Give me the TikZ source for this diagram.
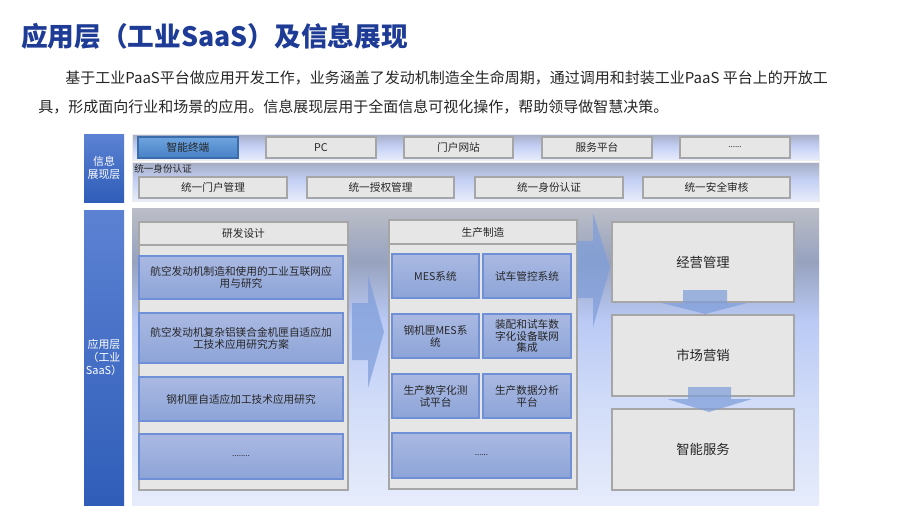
\documentclass[tikz,border=0pt]{standalone}
\usepackage{fontspec}
\setmainfont{Noto Sans CJK SC}
\usetikzlibrary{calc}

\definecolor{titleblue}{HTML}{1E3C96}
\definecolor{lblTop}{HTML}{5C82D3}
\definecolor{lblBot}{HTML}{2F5DB8}
\definecolor{greyfill}{HTML}{E6E6E6}
\definecolor{greyline}{HTML}{A6A6A6}
\definecolor{itemTop}{HTML}{AAB9E2}
\definecolor{itemBot}{HTML}{8DA4D8}
\definecolor{itemLine}{HTML}{6F8FD6}
\definecolor{arrowc}{HTML}{7F9EDA}
\definecolor{selTop}{HTML}{6FA3DE}
\definecolor{selBot}{HTML}{4682C6}
\definecolor{selLine}{HTML}{3B6BA8}
\definecolor{txt}{HTML}{262626}
\definecolor{m0}{HTML}{BBBEC7}
\definecolor{m1}{HTML}{97A2BF}
\definecolor{m2}{HTML}{BACAF5}
\definecolor{m3}{HTML}{D0DBF8}
\definecolor{mb}{HTML}{E6ECFB}
\definecolor{r0}{HTML}{A5ACC3}
\definecolor{r1}{HTML}{C3CFF5}
\definecolor{rb}{HTML}{E8EDFB}

\pgfdeclareverticalshading{mainsh}{100bp}{color(0bp)=(mb); color(25bp)=(mb); color(43bp)=(m3); color(56bp)=(m2); color(66bp)=(m1); color(75bp)=(m0); color(100bp)=(m0)}
\pgfdeclareverticalshading{rowsh}{100bp}{color(0bp)=(rb); color(25bp)=(rb); color(52bp)=(r1); color(75bp)=(r0); color(100bp)=(r0)}

% box from (x1,y1) to (x2,y2) in pixel units
\newcommand\bx[7]{%
  \pgfmathsetmacro\bxw{(#5-#3)*0.75}%
  \pgfmathsetmacro\bxh{(#6-#4)*0.75}%
  \node[#1, minimum width=\bxw pt, minimum height=\bxh pt, inner sep=0pt, outer sep=0pt] (#2) at ({(#3+#5)/2},{(#4+#6)/2}) {#7};}

\tikzset{
  lbl/.style={shade, top color=lblTop, bottom color=lblBot, text=white, font=\fontsize{8.2}{9.6}\selectfont, align=center},
  panelmain/.style={shade, shading=mainsh},
  panelrow/.style={shade, shading=rowsh, draw=white!85!gray, line width=0.5pt},
  gbox/.style={fill=greyfill, draw=greyline, line width=0.8pt, font=\fontsize{8}{10}\selectfont, text=txt, align=center},
  selbox/.style={shade, top color=selTop, bottom color=selBot, draw=selLine, line width=0.8pt, font=\fontsize{8}{10}\selectfont, text=txt},
  item/.style={shade, top color=itemTop, bottom color=itemBot, draw=itemLine, line width=0.8pt, font=\fontsize{8}{8.9}\selectfont, align=center, text=txt},
  bigbox/.style={gbox, font=\fontsize{10}{12}\selectfont},
  blockarrow/.style={fill=arrowc, fill opacity=0.72, draw=none},
}

\begin{document}
\begin{tikzpicture}[x=0.75pt,y=-0.75pt]
\useasboundingbox (0,0) rectangle (920,518);
\fill[white] (0,0) rectangle (920,518);

% title and text
\node[anchor=west, inner sep=0pt, text=titleblue, font=\fontsize{20}{24}\selectfont\bfseries] (title) at (21,36) {应用层（工业SaaS）及信息展现};
\node[anchor=west, inner sep=0pt, text=txt, font=\fontsize{11.25}{14}\selectfont] (para1) at (65,78) {基于工业PaaS平台做应用开发工作，业务涵盖了发动机制造全生命周期，通过调用和封装工业PaaS 平台上的开放工};
\node[anchor=west, inner sep=0pt, text=txt, font=\fontsize{11.25}{14}\selectfont] (para2) at (38,107) {具，形成面向行业和场景的应用。信息展现层用于全面信息可视化操作，帮助领导做智慧决策。};

% left labels
\bx{lbl}{labInfo}{84}{134}{124}{202}{信息\\展现层}
\bx{lbl}{labApp}{84}{210}{124}{505}{应用层\\（工业\\SaaS）}

% top panel rows
\bx{panelrow}{row1}{132}{134}{819}{160}{}
\bx{panelrow}{row2}{132}{162}{819}{201}{}

\bx{selbox}{t1}{138}{137}{238}{158}{智能终端}
\bx{gbox}{t2}{266}{137}{376}{158}{PC}
\bx{gbox}{t3}{404}{137}{513}{158}{门户网站}
\bx{gbox}{t4}{542}{137}{652}{158}{服务平台}
\bx{gbox}{t5}{680}{137}{790}{158}{\fontsize{6}{8}\selectfont ......}

\node[anchor=west, inner sep=0pt, text=txt, font=\fontsize{7.2}{9}\selectfont] (idlabel) at (134,169) {统一身份认证};
\bx{gbox}{u1}{139}{177}{287}{198}{统一门户管理}
\bx{gbox}{u2}{307}{177}{454}{198}{统一授权管理}
\bx{gbox}{u3}{475}{177}{623}{198}{统一身份认证}
\bx{gbox}{u4}{643}{177}{790}{198}{统一安全审核}

% main panel
\bx{panelmain}{mainp}{132}{208}{819}{505}{}

% column 1
\bx{gbox}{c1}{139}{222}{348}{490}{}
\bx{gbox}{c1h}{139}{222}{348}{245}{研发设计}
\bx{item}{a1}{139}{256}{343}{299}{航空发动机制造和使用的工业互联网应\\用与研究}
\bx{item}{a2}{139}{313}{343}{363}{航空发动机复杂铝镁合金机匣自适应加\\工技术应用研究方案}
\bx{item}{a3}{139}{377}{343}{421}{钢机匣自适应加工技术应用研究}
\bx{item}{a4}{139}{434}{343}{479}{\fontsize{6}{8}\selectfont ........}

% column 2
\bx{gbox}{c2}{389}{220}{577}{489}{}
\bx{gbox}{c2h}{389}{220}{577}{244}{生产制造}
\bx{item}{b1}{392}{254}{479}{298}{MES系统}
\bx{item}{b2}{483}{254}{571}{298}{试车管控系统}
\bx{item}{b3}{392}{314}{479}{358}{钢机匣MES系\\统}
\bx{item}{b4}{483}{314}{571}{358}{装配和试车数\\字化设备联网\\集成}
\bx{item}{b5}{392}{374}{479}{418}{生产数字化测\\试平台}
\bx{item}{b6}{483}{374}{571}{418}{生产数据分析\\平台}
\bx{item}{b7}{392}{433}{571}{478}{\fontsize{6}{8}\selectfont ......}

% column 3
\bx{bigbox}{d1}{612}{222}{794}{302}{经营管理}
\bx{bigbox}{d2}{612}{315}{794}{396}{市场营销}
\bx{bigbox}{d3}{612}{409}{794}{490}{智能服务}

% block arrows
\fill[blockarrow] (352,303) -- (368,303) -- (368,275) -- (384,332) -- (368,388) -- (368,360) -- (352,360) -- cycle;
\fill[blockarrow] (577,241) -- (593,241) -- (593,213) -- (610,268) -- (593,327) -- (593,298) -- (577,298) -- cycle;
\fill[blockarrow] (683,290) -- (727,290) -- (727,303) -- (747,303) -- (705,314) -- (662,303) -- (683,303) -- cycle;
\fill[blockarrow] (688,387) -- (731,387) -- (731,399) -- (752,399) -- (709,412) -- (667,399) -- (688,399) -- cycle;
\end{tikzpicture}
\end{document}
